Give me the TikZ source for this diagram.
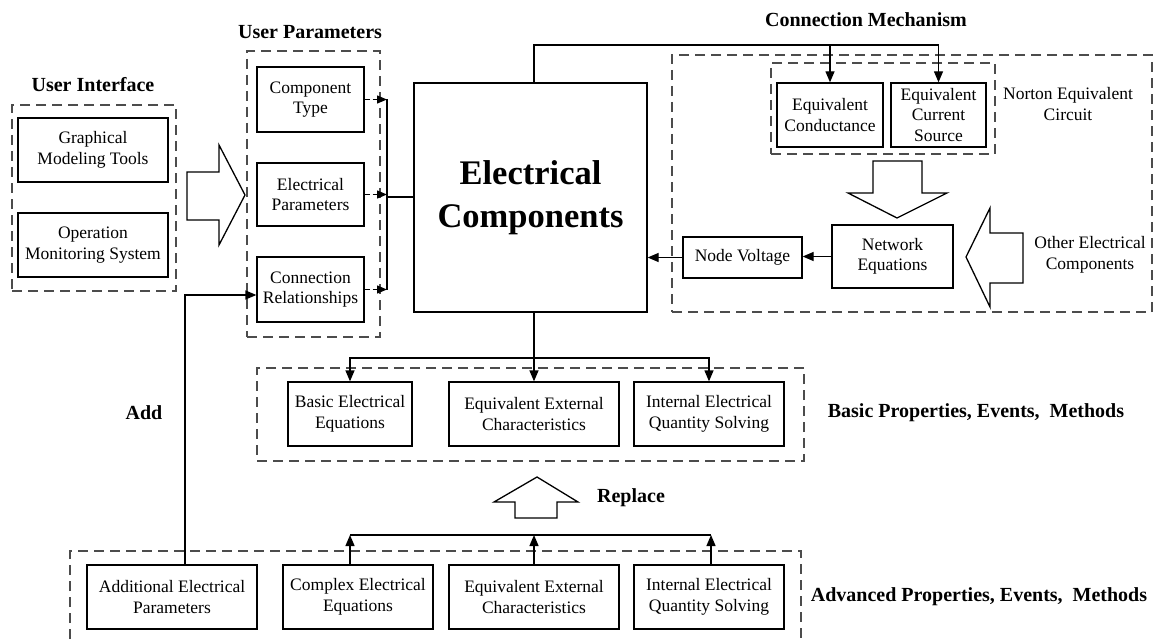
\documentclass[tikz,border=0pt]{standalone}
\usepackage{fontspec}
\setmainfont{Liberation Serif}
\usetikzlibrary{arrows.meta}

\tikzset{
  box/.style={draw=black, line width=1.3pt, fill=white, inner sep=0pt, align=center,
              font=\fontsize{17.5}{20.5}\selectfont},
  grp/.style={draw=black!70, line width=1.2pt, dash pattern=on 10pt off 6pt, inner sep=0pt},
  title/.style={font=\fontsize{20}{24}\selectfont\bfseries, inner sep=0pt},
  lbl/.style={font=\fontsize{17.5}{20.5}\selectfont, align=center, inner sep=0pt},
  wire/.style={line width=1.3pt},
  arr/.style={line width=1.3pt, -{Triangle[length=11pt,width=9pt]}},
  stub/.style={line width=1.3pt, dash pattern=on 5pt off 3pt, -{Triangle[length=10pt,width=8pt]}},
  hollow/.style={draw=black, line width=1.3pt, fill=white, line join=miter},
}

\begin{document}
\begin{tikzpicture}[x=1pt, y=-1pt]
\useasboundingbox (0,0) rectangle (1155,639);

% ---------- user interface ----------
\node[grp, minimum width=164pt, minimum height=186pt] (uigrp) at (94,198) {};
\node[title] (uititle) at (93,85) {User Interface};
\node[box, minimum width=150pt, minimum height=64pt] (gmt) at (93,150) {Graphical\\Modeling Tools};
\node[box, minimum width=150pt, minimum height=64pt] (oms) at (93,245) {Operation\\Monitoring System};

% hollow arrow towards the parameters
\draw[hollow] (187,172) -- (219,172) -- (219,145) -- (245,195) -- (219,245) -- (219,220) -- (187,220) -- cycle;

% ---------- user parameters ----------
\node[grp, minimum width=133pt, minimum height=286pt] (upgrp) at (313.5,194) {};
\node[title] (uptitle) at (310,32) {User Parameters};
\node[box, minimum width=107pt, minimum height=65pt] (comptype) at (310.5,99.5) {Component\\Type};
\node[box, minimum width=107pt, minimum height=63pt] (elecpar) at (310.5,194.5) {Electrical\\Parameters};
\node[box, minimum width=107pt, minimum height=65pt] (connrel) at (310.5,289.5) {Connection\\Relationships};

% ---------- central block ----------
\node[box, minimum width=233pt, minimum height=229pt,
      font=\fontsize{34.5}{43}\selectfont\bfseries] (ec) at (530.5,197.5) {Electrical\\Components};

% parameter bus into the central block
\coordinate (bus) at (387,197);
\draw[stub] (comptype.east) -- (comptype.east -| bus);
\draw[stub] (elecpar.east) -- (elecpar.east -| bus);
\draw[stub] (connrel.east) -- (connrel.east -| bus);
\draw[wire] (comptype.east -| bus) -- (connrel.east -| bus);
\draw[wire] (bus) -- (ec.west |- bus);

% ---------- connection mechanism ----------
\node[grp, minimum width=480pt, minimum height=257pt] (cmgrp) at (912,183.5) {};
\node[title] (cmtitle) at (866,20) {Connection Mechanism};
\node[grp, minimum width=224pt, minimum height=91pt] (nortongrp) at (883,108.5) {};
\node[box, minimum width=106pt, minimum height=64pt] (cond) at (830,115) {Equivalent\\Conductance};
\node[box, minimum width=95pt, minimum height=64pt] (cs) at (938.5,115) {Equivalent\\Current\\Source};
\node[lbl] (nortonlbl) at (1068,104) {Norton Equivalent\\Circuit};
\node[box, minimum width=121pt, minimum height=63pt] (neteq) at (892.5,256.5) {Network\\Equations};
\node[box, minimum width=119pt, minimum height=41pt] (nodev) at (742.5,257.5) {Node Voltage};
\node[lbl] (otherlbl) at (1090,255) {Other Electrical\\Components};

% hollow arrows inside the mechanism
\draw[hollow] (873,161) -- (922,161) -- (922,193) -- (947,193) -- (897,218) -- (848,193) -- (873,193) -- cycle;
\draw[hollow] (1023,233) -- (990,233) -- (990,208) -- (966,257) -- (990,307) -- (990,283) -- (1023,283) -- cycle;

% solved voltage back into the central block
\draw[arr] (neteq.west) -- (nodev.east |- neteq.west);
\draw[arr] (nodev.west) -- (nodev.west -| ec.east);

% ---------- basic properties ----------
\node[grp, minimum width=547pt, minimum height=93pt] (basicgrp) at (530.5,414.5) {};
\node[box, minimum width=124pt, minimum height=64pt] (basiceq) at (350,414) {Basic Electrical\\Equations};
\node[box, minimum width=170pt, minimum height=64pt] (eqext) at (534,414) {Equivalent External\\Characteristics};
\node[box, minimum width=150pt, minimum height=64pt] (intq) at (709,414) {Internal Electrical\\Quantity Solving};
\node[title] (basiclbl) at (976,413) {Basic Properties, Events, \ Methods};

% top feed from the central block
\coordinate (topr) at (938.5,45);
\draw[wire] (ec.north -| eqext.north) |- (topr);
\draw[arr] (topr) -- (cs.north);
\draw[arr] (cond.north |- topr) -- (cond.north);

\coordinate (bj) at (534,358);
\draw[arr] (ec.south -| eqext.north) -- (eqext.north);
\draw[arr] (bj) -| (basiceq.north);
\draw[arr] (bj) -| (intq.north);

% ---------- replace ----------
\draw[hollow] (515,518) -- (557,518) -- (557,502) -- (578,502) -- (537,477) -- (494,502) -- (515,502) -- cycle;
\node[title] (replbl) at (631,498) {Replace};

% ---------- advanced properties ----------
\draw[grp] (70,639) -- (70,551) -- (801,551) -- (801,639);
\node[box, minimum width=170pt, minimum height=64pt] (additional) at (172,597) {Additional Electrical\\Parameters};
\node[box, minimum width=150pt, minimum height=64pt] (complex) at (358,597) {Complex Electrical\\Equations};
\node[box, minimum width=170pt, minimum height=64pt] (eqext2) at (534,597) {Equivalent External\\Characteristics};
\node[box, minimum width=150pt, minimum height=64pt] (intq2) at (709,597) {Internal Electrical\\Quantity Solving};
\node[title] (advlbl) at (979,597) {Advanced Properties, Events, \ Methods};

\coordinate (bl) at (350,535);
\coordinate (br) at (711,535);
\draw[wire] (bl) -- (br);
\draw[arr] (complex.north -| bl) -- (bl);
\draw[arr] (eqext2.north) -- (eqext2.north |- bl);
\draw[arr] (intq2.north -| br) -- (br);

% ---------- add ----------
\node[title] (addlbl) at (144,413) {Add};
\coordinate (addc) at (185,295);
\draw[arr] (additional.north -| addc) -- (addc) -- (connrel.west |- addc);

\end{tikzpicture}
\end{document}
